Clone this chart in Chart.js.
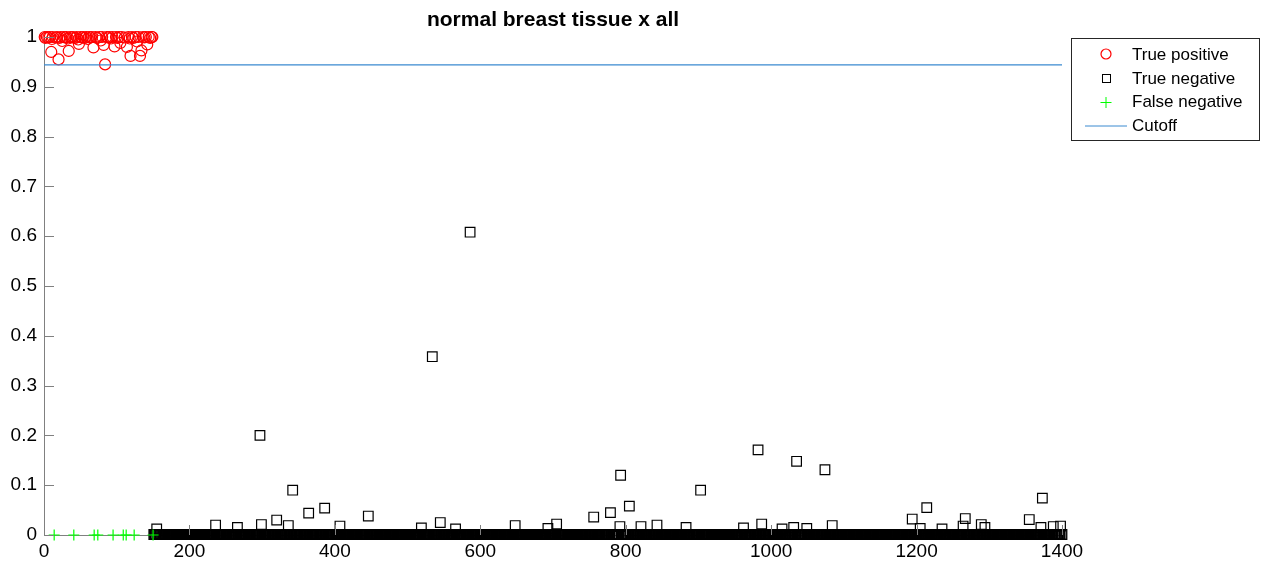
<!DOCTYPE html>
<html lang="en">
<head>
  <meta charset="UTF-8" />
  <title>normal breast tissue x all</title>
  <script src="https://cdn.jsdelivr.net/npm/chart.js"></script>
  <style>
    html, body { margin: 0; padding: 0; background: #fff; }
    #wrap { width: 1261px; height: 568px; }
  </style>
</head>
<body>
  <div id="wrap"><canvas id="graphe"></canvas></div>

<script>
  // donnees
  const chartTitle = 'normal breast tissue x all';
  const seriesNames = ['True positive', 'True negative', 'False negative', 'Cutoff'];

  // true positive (cercles rouges), x = indice echantillon
  const tpX = [1, 2, 4, 6, 8, 10, 11, 12, 16, 18, 20, 21, 23, 25, 27, 29, 31, 33, 34, 36,
    38, 40, 43, 45, 47, 48, 50, 52, 54, 56, 58, 60, 62, 64, 66, 68, 71, 73, 76, 78,
    80, 82, 84, 86, 88, 90, 92, 94, 97, 99, 101, 103, 105, 107, 111, 114, 116, 118, 119, 121,
    123, 126, 128, 130, 132, 134, 136, 138, 140, 142, 144, 146, 148, 149];
  const tpY = [1.0, 0.998, 1.0, 0.999, 1.0, 0.970, 0.996, 1.0, 0.999, 1.0, 0.955, 0.998, 1.0, 0.992, 1.0, 0.999, 1.0, 0.997, 0.972, 1.0,
    0.999, 1.0, 0.998, 1.0, 0.995, 0.986, 1.0, 0.999, 1.0, 0.998, 1.0, 0.996, 1.0, 0.999, 1.0, 0.979, 1.0, 0.998, 1.0, 0.993,
    1.0, 0.984, 0.945, 1.0, 0.999, 1.0, 0.997, 1.0, 0.981, 1.0, 0.998, 1.0, 0.988, 1.0, 0.999, 0.980, 1.0, 0.997, 0.962, 1.0,
    0.998, 1.0, 0.991, 1.0, 0.962, 0.973, 1.0, 0.999, 1.0, 0.985, 1.0, 0.998, 1.0, 1.0];

  // false negative (plus verts), tous a 0
  const fnX = [14, 41, 69, 74, 95, 109, 113, 124, 150];
  const fnY = [0, 0, 0, 0, 0, 0, 0, 0, 0];

  // true negative : indices 151 a 1400, presque tous a ~0
  const tnFirst = 151;
  const tnLast = 1400;
  const tnBaseY = 0.001;
  // les carres qui sortent de la bande
  const tnOutX = [155, 236, 266, 297, 299, 320, 336, 342, 364, 386, 407, 446, 519, 534, 545, 566, 586, 648, 693, 705,
    756, 779, 792, 793, 805, 821, 843, 883, 903, 962, 982, 987, 1015, 1031, 1035, 1049, 1074, 1084, 1194, 1205,
    1214, 1235, 1264, 1267, 1289, 1294, 1355, 1371, 1373, 1388, 1398];
  const tnOutY = [0.012, 0.020, 0.015, 0.200, 0.021, 0.030, 0.019, 0.090, 0.044, 0.054, 0.018, 0.038, 0.014, 0.358, 0.025, 0.012, 0.608, 0.019, 0.013, 0.022,
    0.036, 0.045, 0.017, 0.120, 0.058, 0.017, 0.020, 0.015, 0.090, 0.014, 0.171, 0.022, 0.012, 0.015, 0.148, 0.013, 0.131, 0.019, 0.032, 0.013,
    0.055, 0.012, 0.018, 0.033, 0.021, 0.015, 0.031, 0.015, 0.074, 0.017, 0.018];

  const cutoff = 0.944;
  const xTicks = [0, 200, 400, 600, 800, 1000, 1200, 1400];
  const yTicks = [0, 0.1, 0.2, 0.3, 0.4, 0.5, 0.6, 0.7, 0.8, 0.9, 1];

  const FONT = '"Liberation Sans", Arial, Helvetica, sans-serif';
  const AXIS_GRAY = '#808080';
  const CUT_BLUE = '#3a8ad0';

  // construction des points
  function zip(xs, ys) {
    return xs.map((x, i) => ({ x: x, y: ys[i] }));
  }
  const tnPoints = [];
  for (let i = tnFirst; i <= tnLast; i++) {
    if (tnOutX.indexOf(i) === -1) tnPoints.push({ x: i, y: tnBaseY });
  }
  zip(tnOutX, tnOutY).forEach(p => tnPoints.push(p));

  // ticks vers l'interieur, titre et legende facon matlab
  const matlabLook = {
    id: 'matlabLook',
    afterDraw(chart) {
      const ctx = chart.ctx;
      const area = chart.chartArea;
      const xs = chart.scales.x;
      const ys = chart.scales.y;
      ctx.save();
      ctx.strokeStyle = AXIS_GRAY;
      ctx.lineWidth = 1;
      ctx.beginPath();
      xTicks.forEach(v => {
        const px = Math.round(xs.getPixelForValue(v)) + 0.5;
        ctx.moveTo(px, area.bottom);
        ctx.lineTo(px, area.bottom - 10);
      });
      yTicks.forEach(v => {
        const py = Math.round(ys.getPixelForValue(v)) + 0.5;
        ctx.moveTo(area.left, py);
        ctx.lineTo(area.left + 10, py);
      });
      ctx.stroke();

      // titre
      ctx.fillStyle = '#000';
      ctx.font = 'bold 21px ' + FONT;
      ctx.textAlign = 'center';
      ctx.textBaseline = 'middle';
      ctx.fillText(chartTitle, (area.left + area.right) / 2, 20);

      // legende
      const bx = 1071.5, by = 38.5, bw = 188, bh = 102;
      ctx.fillStyle = '#fff';
      ctx.fillRect(bx, by, bw, bh);
      ctx.strokeStyle = '#262626';
      ctx.strokeRect(bx, by, bw, bh);
      const rows = [55, 79, 102.5, 126];
      const mx = 1106;
      ctx.lineWidth = 1.2;
      // cercle
      ctx.strokeStyle = '#ff0000';
      ctx.beginPath();
      ctx.arc(mx, rows[0] - 1, 5, 0, Math.PI * 2);
      ctx.stroke();
      // carre
      ctx.strokeStyle = '#000';
      ctx.lineWidth = 1;
      ctx.strokeRect(mx - 3.5, rows[1] - 4.5, 8, 8);
      // plus
      ctx.strokeStyle = '#00ff00';
      ctx.beginPath();
      ctx.moveTo(mx - 5.5, rows[2]); ctx.lineTo(mx + 5.5, rows[2]);
      ctx.moveTo(mx, rows[2] - 5.5); ctx.lineTo(mx, rows[2] + 5.5);
      ctx.stroke();
      // ligne
      ctx.strokeStyle = CUT_BLUE;
      ctx.beginPath();
      ctx.moveTo(1085, rows[3]); ctx.lineTo(1127, rows[3]);
      ctx.stroke();

      ctx.fillStyle = '#000';
      ctx.font = '17px ' + FONT;
      ctx.textAlign = 'left';
      seriesNames.forEach((s, i) => ctx.fillText(s, 1132, rows[i]));
      ctx.restore();
    }
  };

  const ctx = document.getElementById('graphe').getContext('2d');
  const myChart = new Chart(ctx, {
    type: 'scatter',
    data: {
      datasets: [
        {
          label: seriesNames[3],
          type: 'line',
          data: [{ x: 0, y: cutoff }, { x: 1400, y: cutoff }],
          borderColor: CUT_BLUE,
          borderWidth: 1.2,
          pointRadius: 0,
          fill: false,
          clip: false
        },
        {
          label: seriesNames[2],
          data: zip(fnX, fnY),
          pointStyle: 'cross',
          pointRadius: 5.5,
          borderColor: '#00ff00',
          backgroundColor: '#00ff00',
          pointBorderWidth: 1.2,
          clip: false
        },
        {
          label: seriesNames[1],
          data: tnPoints,
          pointStyle: 'rect',
          pointRadius: 6.8,
          borderColor: '#000',
          backgroundColor: 'rgba(0,0,0,0)',
          pointBorderWidth: 1.2,
          clip: false
        },
        {
          label: seriesNames[0],
          data: zip(tpX, tpY),
          pointStyle: 'circle',
          pointRadius: 5.5,
          borderColor: '#ff0000',
          backgroundColor: 'rgba(0,0,0,0)',
          pointBorderWidth: 1.2,
          clip: false
        }
      ]
    },
    options: {
      responsive: true,
      maintainAspectRatio: false,
      animation: false,
      events: [],
      layout: { padding: { top: 37, right: 199, left: 0, bottom: 0 } },
      plugins: {
        legend: { display: false },
        title: { display: false },
        tooltip: { enabled: false }
      },
      scales: {
        x: {
          type: 'linear',
          min: 0,
          max: 1400,
          afterBuildTicks: s => { s.ticks = xTicks.map(v => ({ value: v })); },
          afterFit: s => { s.height = 33; },
          grid: { display: false, drawTicks: false },
          border: { display: true, color: AXIS_GRAY, width: 1 },
          ticks: {
            color: '#000',
            font: { family: FONT, size: 19 },
            padding: 5,
            maxRotation: 0,
            autoSkip: false,
            callback: v => String(v)
          }
        },
        y: {
          type: 'linear',
          min: 0,
          max: 1,
          afterBuildTicks: s => { s.ticks = yTicks.map(v => ({ value: v })); },
          afterFit: s => { s.width = 44; },
          grid: { display: false, drawTicks: false },
          border: { display: true, color: AXIS_GRAY, width: 1 },
          ticks: {
            color: '#000',
            font: { family: FONT, size: 19 },
            padding: 7,
            autoSkip: false,
            callback: v => String(+v.toFixed(1))
          }
        }
      }
    },
    plugins: [matlabLook]
  });
</script>
</body>
</html>
